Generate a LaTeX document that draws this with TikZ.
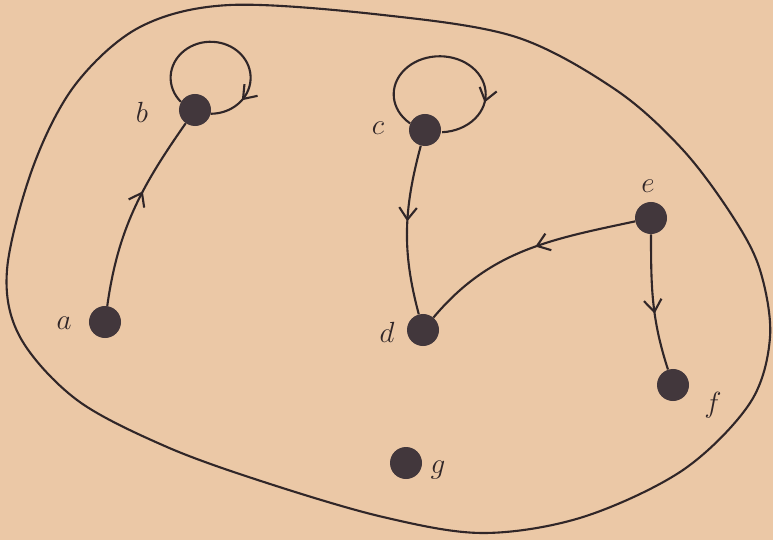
\documentclass[tikz,border=0pt]{standalone}
\usepackage{tikz}
\usetikzlibrary{arrows.meta,decorations.markings}
\definecolor{paper}{RGB}{235,200,166}
\definecolor{ink}{RGB}{48,38,40}
\definecolor{dotgray}{RGB}{66,55,60}

\tikzset{
  vert/.style={circle,fill=dotgray,inner sep=0pt,minimum size=0.8cm},
  lbl/.style={font=\huge,text=ink,inner sep=0pt},
  edge/.style={draw=ink,line width=1.5pt},
  midarrow/.style={postaction={decorate,decoration={markings,
      mark=at position #1 with {\arrow[ink]{Straight Barb[length=3mm,width=4.4mm]}}}}}
}

\begin{document}
\begin{tikzpicture}[x=0.025cm,y=0.025cm]
  \useasboundingbox[fill=paper] (0,0) rectangle (773,540);

  % the set
  \draw[edge] plot[smooth cycle,tension=0.55] coordinates {
    (230,535) (383,525) (516,503) (616,450) (683,390) (733,323)
    (760,270) (770,203) (750,137) (683,70) (583,23) (483,7)
    (383,23) (267,57) (167,93) (77,140) (20,203) (7,270)
    (33,373) (75,455) (140,513)};

  % points
  \node[vert] (a) at (105,218) {};
  \node[vert] (b) at (195,430) {};
  \node[vert] (c) at (425,410) {};
  \node[vert] (d) at (423,210) {};
  \node[vert] (e) at (651,322) {};
  \node[vert] (f) at (673,155) {};
  \node[vert] (g) at (406,77) {};

  \node[lbl] (la) at (64,217) {$a$};
  \node[lbl] (lb) at (142,428) {$b$};
  \node[lbl] (lc) at (378,412) {$c$};
  \node[lbl] (ld) at (387,208) {$d$};
  \node[lbl] (le) at (648,354) {$e$};
  \node[lbl] (lf) at (713,135) {$f$};
  \node[lbl] (lg) at (438,70) {$g$};

  % arrows
  \draw[edge,midarrow=0.6] (a) to[out=82,in=235] (b);
  \draw[edge,midarrow=0.83] (b.150)
    arc[start angle=-138,delta angle=-312,x radius=40,y radius=36];
  \draw[edge,midarrow=0.76] (c.156)
    arc[start angle=-130,delta angle=-317,x radius=46,y radius=38];
  \draw[edge,midarrow=0.45] (c) to[out=-105,in=105] (d);
  \draw[edge,midarrow=0.45] (e) to[out=192,in=50] (d);
  \draw[edge,midarrow=0.58] (e) to[out=-90,in=108] (f);
\end{tikzpicture}
\end{document}
